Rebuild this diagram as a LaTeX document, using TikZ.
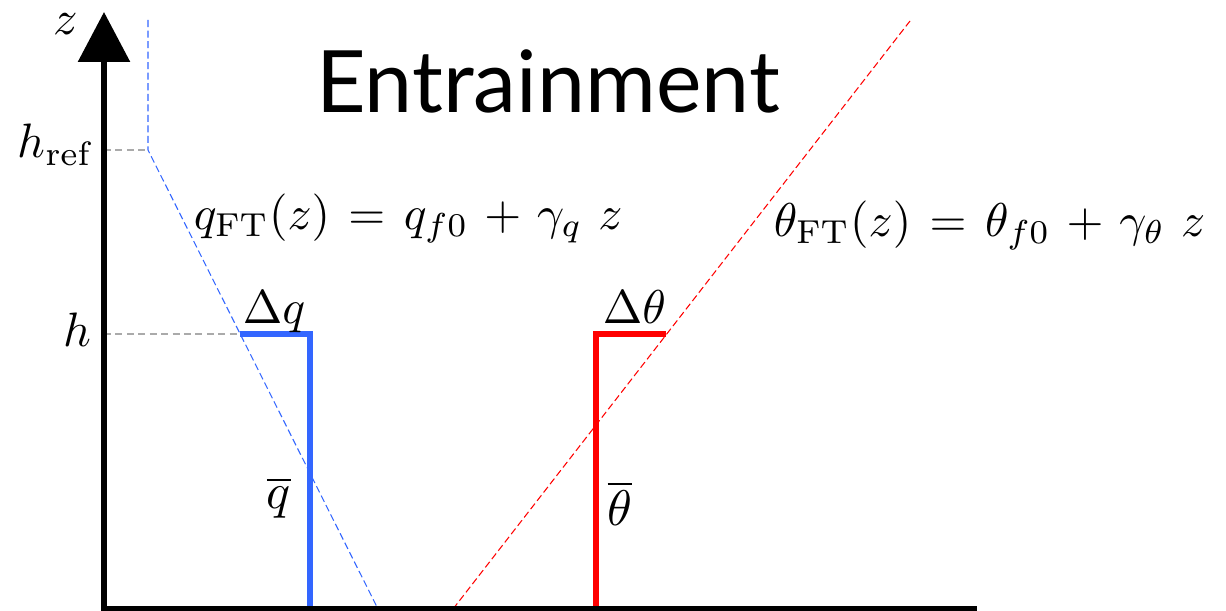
\documentclass[tikz,border=0pt]{standalone}
\usepackage{fontspec}
\usepackage{amsmath}
\usetikzlibrary{arrows.meta,positioning}
\newfontfamily\titlefont{Lato}
\definecolor{QBlue}{RGB}{51,102,255}
\definecolor{ThRed}{RGB}{255,0,0}
\definecolor{GuideGray}{RGB}{170,170,170}
\tikzset{
  axisline/.style={line width=3.4pt, draw=black, line join=miter},
  guide/.style={draw=GuideGray, line width=0.6pt, dash pattern=on 4pt off 2.5pt},
  ftline/.style={line width=0.6pt, dash pattern=on 4pt off 2pt},
  jumpline/.style={line width=3.2pt},
  axlbl/.style={inner sep=0pt, scale=2.75},
  eqlbl/.style={inner sep=0pt, scale=2.7,
    execute at begin node={\thickmuskip=7mu\medmuskip=6mu}},
  dlbl/.style={inner sep=0pt, scale=2.7},
  barlbl/.style={inner sep=0pt, scale=2.85},
}

\begin{document}
\begin{tikzpicture}[x=0.02cm,y=-0.02cm]
  \useasboundingbox (0,0) rectangle (1226,611);
  \coordinate (o) at (104,609);
  \coordinate (ztip) at (104,12);
  \coordinate (xend) at (977,609);
  \coordinate (qtop) at (148,20);
  \coordinate (hr) at (148,150);
  \coordinate (qbot) at (378,609);
  \coordinate (tbot) at (453,609);
  \coordinate (ttop) at (910,21);
  \coordinate (qh) at (240,334);
  \coordinate (qjump) at (310,609);
  \coordinate (tjump) at (596,609);
  \coordinate (th) at (666,334);

  % guides to the z axis
  \draw[guide] (o |- hr) -- (hr);
  \draw[guide] (o |- qh) -- (qh);

  % free troposphere profiles
  \draw[ftline, QBlue] (qtop) -- (hr) -- (qbot);
  \draw[ftline, ThRed] (tbot) -- (ttop);

  % mixed layer with jumps
  \draw[jumpline, QBlue] (qh) -| (qjump);
  \draw[jumpline, ThRed] (tjump) |- (th);

  % axes
  \draw[axisline, -{Triangle[length=1cm,width=1.02cm]}] (xend) -- (o) -- (ztip);

  \node[axlbl, anchor=base] (zlab) at (66,35) {$z$};
  \node[axlbl, anchor=base east] (hreflab) at (93,158) {$h_{\mathrm{ref}}$};
  \node[axlbl, anchor=base east] (hlab) at (92,346) {$h$};

  \node[inner sep=0pt, anchor=base, font=\titlefont\fontsize{49}{57}\selectfont] (title) at (548,113) {Entrainment};

  \node[eqlbl, anchor=base west] (qft) at (193,229) {$q_{\mathrm{FT}}(z) = q_{f0} + \gamma_q\ z$};
  \node[eqlbl, anchor=base west] (thft) at (773,236) {$\theta_{\mathrm{FT}}(z) = \theta_{f0} + \gamma_\theta\ z$};

  \node[dlbl, anchor=base west] (dq) at (242,323) {$\Delta q$};
  \node[dlbl, anchor=base west] (dth) at (602,323) {$\Delta\theta$};
  \node[barlbl] (qbar) at (279,498) {$\overline{q}$};
  \node[barlbl] (thbar) at (620,503) {$\overline{\theta}$};
\end{tikzpicture}
\end{document}
